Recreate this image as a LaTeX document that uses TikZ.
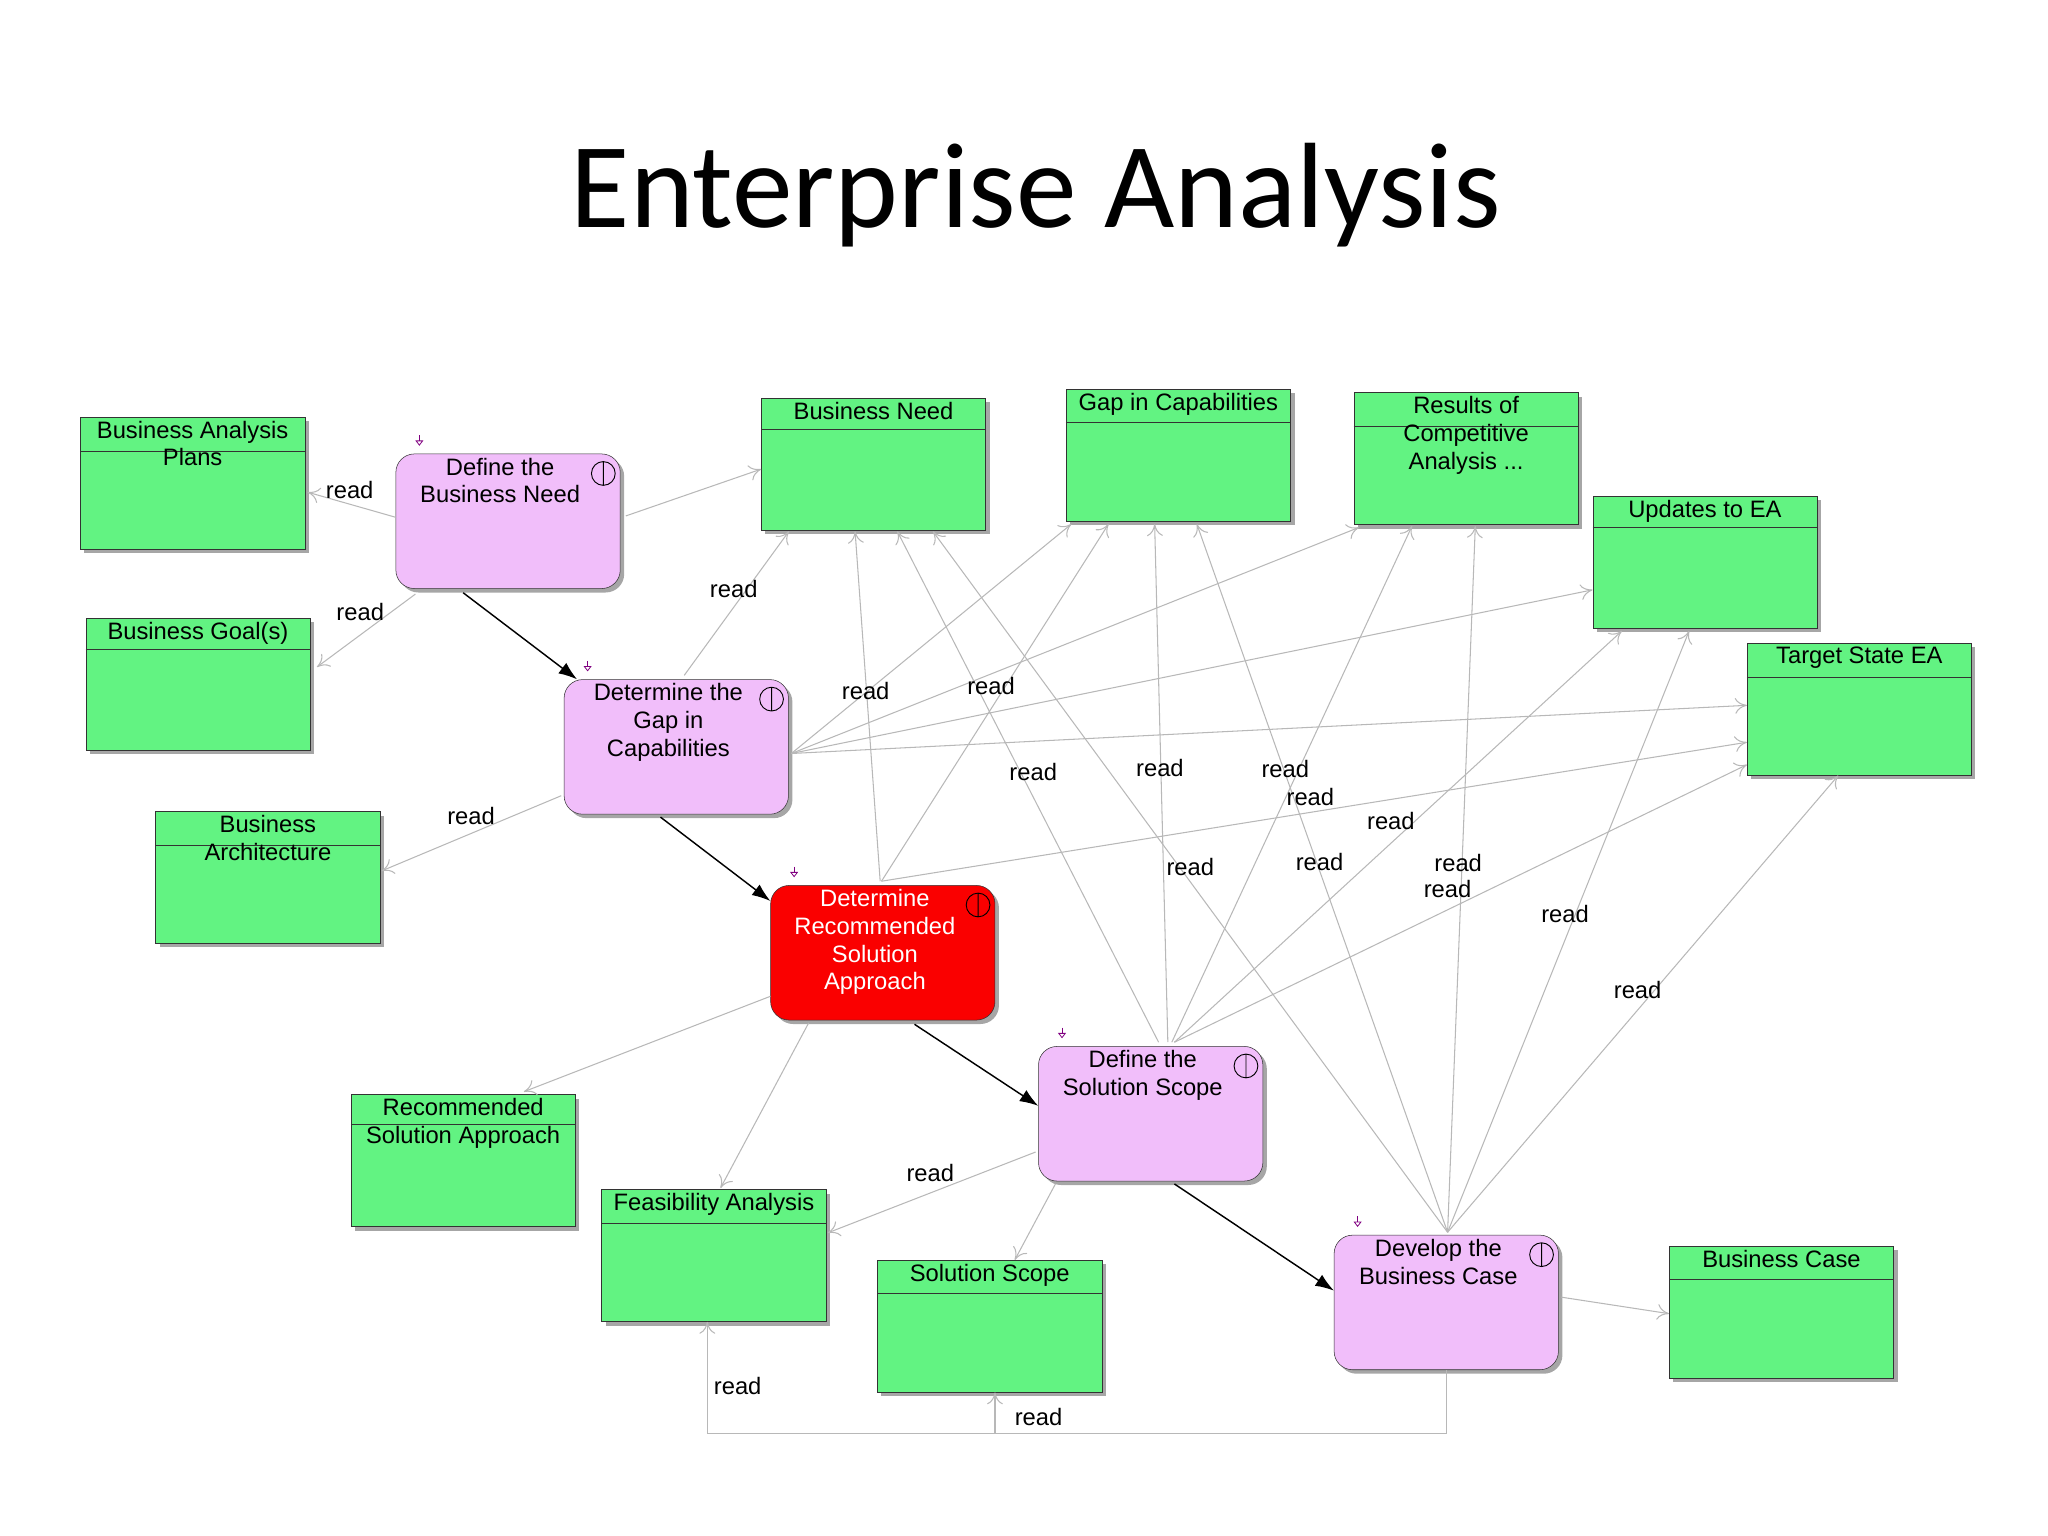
\documentclass[tikz,border=0pt]{standalone}
\usepackage{fontspec}
\setmainfont{Liberation Sans}
\newfontfamily\titlefont{Carlito}
\usetikzlibrary{arrows.meta,shadows,calc}
\definecolor{grn}{RGB}{98,243,130}
\definecolor{pnk}{RGB}{241,190,250}
\definecolor{rdd}{RGB}{250,0,0}
\begin{document}
\begin{tikzpicture}[x=1pt,y=-1pt,
 sh/.style={drop shadow={shadow xshift=3pt,shadow yshift=-3pt,fill=black!35,opacity=1}},
 gb/.style={draw=black!80,fill=grn,minimum width=170pt,minimum height=100pt,inner sep=0pt,sh},
 gt/.style={anchor=north,align=center,font=\fontsize{18}{21}\selectfont,inner sep=1pt},
 task/.style={draw=black!80,fill=pnk,rounded corners=14pt,minimum width=170pt,minimum height=102pt,inner sep=0pt,sh},
 rd/.style={draw=black!28,line width=0.8pt,-{To[length=9pt,width=12pt]}},
 flow/.style={draw=black,line width=1.1pt,-{Latex[length=14pt,width=10pt]}},
 lb/.style={font=\fontsize{18}{21}\selectfont,inner sep=1pt}]
\useasboundingbox (0,0) rectangle (1552,1164);
\node[font=\titlefont\fontsize{92}{100}\selectfont] (title) at (785,148) {Enterprise Analysis};
\newcommand{\gbx}[4]{\node[gb] (#1) at (#2) {};\draw[black!80] ($(#1.north west)+(0,#3)$) -- ($(#1.north east)+(0,#3)$);\node[gt] at ($(#1.north)+(0,2)$) {#4};}
\gbx{bap}{146,366}{26}{Business Analysis\\Plans}
\gbx{bg}{150,518.5}{24}{Business Goal(s)}
\gbx{ba}{203,665}{26}{Business\\Architecture}
\gbx{bn}{662,351.5}{24}{Business Need}
\gbx{gap}{893,345}{25}{Gap in Capabilities}
\gbx{rca}{1111,347.5}{26}{Results of\\Competitive\\Analysis ...}
\gbx{uea}{1292,426}{24}{Updates to EA}
\gbx{tsea}{1409,537.5}{26}{Target State EA}
\gbx{rsa}{351,879.5}{23}{Recommended\\Solution Approach}
\gbx{fa}{541,951.5}{26}{Feasibility Analysis}
\gbx{ss}{750,1005}{25}{Solution Scope}
\gbx{bc}{1350,994.5}{25}{Business Case}
\newcommand{\tsk}[4]{\node[task,#4] (#1) at (#2) {};
 \node[gt,#4] at ($(#1.north)+(-6,2)$) {#3};
 \draw[black,line width=0.7pt] ($(#1.north east)+(-13,15)$) circle (9pt) ++(0,-9) -- ++(0,18);
 \draw[violet,line width=0.6pt,-{Triangle[open,length=4pt,width=6pt]}] ($(#1.north west)+(18,-14)$) -- ++(0,8);}
\tsk{dbn}{385,395}{Define the\\Business Need}{}
\tsk{dg}{512.5,566}{Determine the\\Gap in\\Capabilities}{}
\tsk{dr}{669,722}{Determine\\Recommended\\Solution\\Approach}{fill=rdd,text=white}
\tsk{dss}{872,844}{Define the\\Solution Scope}{}
\tsk{dbc}{1096,987}{Develop the\\Business Case}{}
% read connectors
\draw[rd] ($(dbn.west)+(0,-3)$) -- ($(bap.east)+(2,7)$);
\draw[rd] ($(dbn.south west)+(15,4)$) -- ($(bg.east)+(5,-13)$);
\draw[rd] ($(dbn.east)+(4,-4)$) -- ($(bn.west)+(0,4)$);
\draw[rd] ($(dg.north)+(6,-3)$) -- ($(bn.south west)+(21,1)$);
\draw[rd] ($(dg.east)+(2,5)$) -- ($(gap.south west)+(4,2)$);
\draw[rd] ($(dg.east)+(2,5)$) -- ($(rca.south west)+(4,2)$);
\draw[rd] ($(dg.east)+(2,5)$) -- ($(uea.west)+(0,21)$);
\draw[rd] ($(dg.east)+(2,5)$) -- ($(tsea.west)+(0,-3)$);
\draw[rd] ($(dg.west)+(-2,37)$) -- ($(ba.east)+(1,-5)$);
\draw[rd] ($(dr.north)+(-2,-3)$) -- ($(bn.south)+(-14,1)$);
\draw[rd] ($(dr.north)+(-1,-3)$) -- ($(gap.south)+(-53,2)$);
\draw[rd] ($(dr.north)+(-1,-3)$) -- ($(tsea.west)+(0,25)$);
\draw[rd] ($(dr.west)+(0,33)$) -- ($(rsa.north)+(46,-2)$);
\draw[rd] ($(dr.south west)+(29,2)$) -- ($(fa.north)+(5,-1)$);
\draw[rd] ($(dss.north)+(6,-3)$) -- ($(bn.south)+(18,1)$);
\draw[rd] ($(dss.north)+(13,-3)$) -- ($(gap.south)+(-18,2)$);
\draw[rd] ($(dss.north)+(16,-3)$) -- ($(rca.south)+(-41,1)$);
\draw[rd] ($(dss.north)+(18,-3)$) -- ($(uea.south)+(-63,2)$);
\draw[rd] ($(dss.north)+(18,-3)$) -- ($(tsea.west)+(0,42)$);
\draw[rd] ($(dss.west)+(-2,29)$) -- ($(fa.north east)+(1,33)$);
\draw[rd] ($(dss.south west)+(13,2)$) -- ($(ss.north)+(19,0)$);
\draw[rd] ($(dbc.north)+(1,-2)$) -- ($(bn.south)+(45,1)$);
\draw[rd] ($(dbc.north)+(1,-2)$) -- ($(gap.south)+(14,2)$);
\draw[rd] ($(dbc.north)+(1,-2)$) -- ($(rca.south)+(7,1)$);
\draw[rd] ($(dbc.north)+(1,-2)$) -- ($(uea.south)+(-12,2)$);
\draw[rd] ($(dbc.north)+(1,-2)$) -- ($(tsea.south)+(-16,0)$);
\draw[rd] ($(dbc.east)+(2,-4)$) -- ($(bc.west)+(0,1)$);
\draw[rd] (dbc.south) |- (536,1086) -- ($(fa.south)+(-5,0)$);
\draw[rd] (dbc.south) |- (754,1086) -- ($(ss.south)+(4,0)$);
% flow
\draw[flow] ($(dbn.south)+(-34,3)$) -- ($(dg.north west)+(10,0)$);
\draw[flow] ($(dg.south)+(-12,2)$) -- ($(dr.north west)+(0,12)$);
\draw[flow] ($(dr.south)+(24,3)$) -- ($(dss.west)+(0,-6)$);
\draw[flow] ($(dss.south)+(18,2)$) -- ($(dbc.west)+(0,-9)$);
% labels
\foreach \p/\n in {{265,371}/l1,{273,464}/l2,{556,446}/l3,{656,524}/l4,{751,520}/l5,{357,618}/l6,{783,585}/l7,{879,582}/l8,{974,583}/l9,{993,604}/l10,{1054,622}/l11,{902,657}/l12,{1000,653}/l13,{1105,654}/l14,{1097,674}/l15,{1186,693}/l16,{1241,750}/l17,{705,889}/l18,{559,1050}/l19,{787,1074}/l20}
  \node[lb] (\n) at (\p) {read};
\end{tikzpicture}
\end{document}
